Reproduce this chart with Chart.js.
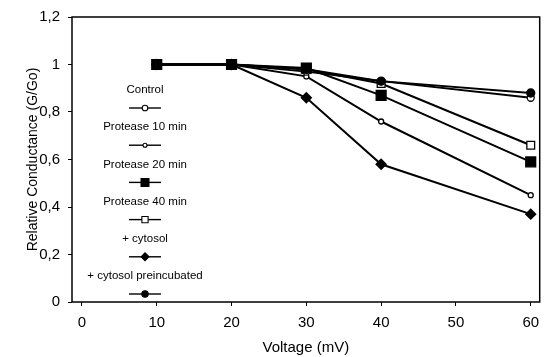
<!DOCTYPE html>
<html>
<head>
<meta charset="utf-8">
<script src="https://cdn.jsdelivr.net/npm/chart.js@4"></script>
<style>
  html, body { margin: 0; padding: 0; background: #fff; }
  #grafica { display: block; }
</style>
</head>
<body>
<canvas id="grafica" width="548" height="357"></canvas>
<script>
// =================== Datos ===================

// Voltajes medidos (mV)
const voltajes = [10, 20, 30, 40, 60];

// Conductancia relativa (G/Go) por condición
const control = [1, 1, 0.97, 0.93, 0.86];
const proteasa10 = [1, 1, 0.95, 0.76, 0.45];
const proteasa20 = [1, 1, 0.985, 0.87, 0.59];
const proteasa40 = [1, 1, 0.98, 0.92, 0.66];
const citosol = [1, 1, 0.86, 0.58, 0.37];
const citosolPre = [1, 1, 0.98, 0.93, 0.88];

// Nombres de las series
const etiquetas = [
  "Control",
  "Protease 10 min",
  "Protease 20 min",
  "Protease 40 min",
  "+ cytosol",
  "+ cytosol preincubated"
];

// Marcas de los ejes
const ticksX = [0, 10, 20, 30, 40, 50, 60];
const ticksY = [0, 0.2, 0.4, 0.6, 0.8, 1, 1.2];

const FUENTE = "'Liberation Sans', Arial, sans-serif";

// =================== Helpers ===================

// Une voltajes y valores en puntos {x, y}
function puntos(valores) {
  return valores.map((v, i) => ({ x: voltajes[i], y: v }));
}

// Decimal con coma: 0.8 -> "0,8"
function conComa(v) {
  return String(Math.round(v * 10) / 10).replace(".", ",");
}

// Estilo común de cada serie (orden menor = se dibuja encima)
function serie(label, valores, estilo, radio, relleno, orden) {
  return {
    label,
    data: puntos(valores),
    order: orden,
    borderColor: "#000",
    borderWidth: 2,
    pointStyle: estilo,
    pointRadius: radio,
    pointBackgroundColor: relleno,
    pointBorderColor: "#000",
    pointBorderWidth: 1.3,
    tension: 0
  };
}

// =================== Marco y leyenda ===================

// Dibuja el recuadro del área de trazado y la leyenda apilada dentro de ella
const marcoYLeyenda = {
  id: "marcoYLeyenda",
  afterDatasetsDraw(chart) {
    const { ctx, chartArea: a } = chart;
    ctx.save();
    ctx.strokeStyle = "#000";
    ctx.lineWidth = 1.5;
    ctx.strokeRect(a.left, a.top, a.right - a.left, a.bottom - a.top);

    const cx = a.left + 73;
    ctx.font = "11.5px " + FUENTE;
    ctx.textAlign = "center";
    ctx.textBaseline = "middle";

    chart.data.datasets.forEach((ds, i) => {
      const yTexto = a.top + 73 + i * 37.2;
      const yMarca = yTexto + 18;

      ctx.fillStyle = "#000";
      ctx.fillText(ds.label, cx, yTexto);

      ctx.lineWidth = 1.4;
      ctx.beginPath();
      ctx.moveTo(cx - 16, yMarca);
      ctx.lineTo(cx + 16, yMarca);
      ctx.stroke();

      ctx.fillStyle = ds.pointBackgroundColor;
      ctx.lineWidth = 1.1;
      Chart.helpers.drawPoint(ctx, {
        pointStyle: ds.pointStyle,
        radius: ds.pointRadius * 0.8,
        borderWidth: 1.1,
        rotation: 0
      }, cx, yMarca);
    });
    ctx.restore();
  }
};

// =================== Gráfica ===================

const grafica = new Chart(document.getElementById("grafica").getContext("2d"), {
  type: "line",
  data: {
    datasets: [
      serie(etiquetas[0], control, "circle", 3.5, "#fff", 3),
      serie(etiquetas[1], proteasa10, "circle", 2.5, "#fff", 4),
      serie(etiquetas[2], proteasa20, "rect", 7, "#000", 0),
      serie(etiquetas[3], proteasa40, "rect", 5.5, "#fff", 5),
      serie(etiquetas[4], citosol, "rectRot", 5, "#000", 2),
      serie(etiquetas[5], citosolPre, "circle", 4, "#000", 1)
    ]
  },
  options: {
    responsive: false,
    animation: false,
    layout: { padding: { left: 0, top: 17, right: 6, bottom: 0 } },
    plugins: {
      legend: { display: false },
      tooltip: { enabled: false }
    },
    scales: {
      x: {
        type: "linear",
        min: -1.33,
        max: 61.2,
        afterBuildTicks: (s) => { s.ticks = ticksX.map(v => ({ value: v })); },
        afterFit: (s) => { s.height = 55; },
        border: { display: false },
        grid: { drawOnChartArea: false, tickLength: 4, color: "#000", lineWidth: 1 },
        ticks: {
          color: "#000",
          padding: 8,
          font: { family: FUENTE, size: 15 },
          maxRotation: 0
        },
        title: {
          display: true,
          text: "Voltage (mV)",
          color: "#000",
          font: { family: FUENTE, size: 15 },
          padding: { top: 0, bottom: 0 }
        }
      },
      y: {
        min: 0,
        max: 1.2,
        afterBuildTicks: (s) => { s.ticks = ticksY.map(v => ({ value: v })); },
        afterFit: (s) => { s.width = 72; },
        border: { display: false },
        grid: { drawOnChartArea: false, tickLength: 4, color: "#000", lineWidth: 1 },
        ticks: {
          color: "#000",
          padding: 8,
          font: { family: FUENTE, size: 15 },
          callback: (v) => conComa(v)
        },
        title: {
          display: true,
          text: "Relative Conductance (G/Go)",
          color: "#000",
          font: { family: FUENTE, size: 14 },
          padding: { top: 25, bottom: 0 }
        }
      }
    }
  },
  plugins: [marcoYLeyenda]
});
</script>
</body>
</html>
